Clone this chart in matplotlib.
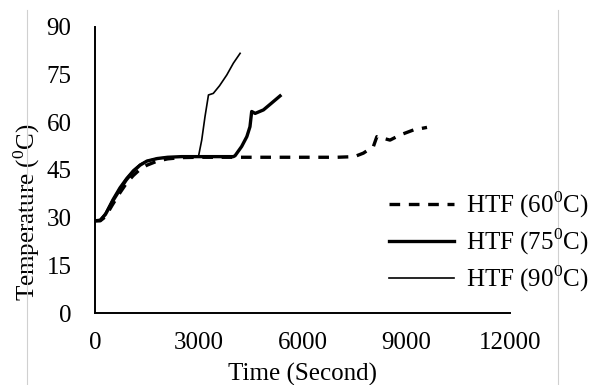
import matplotlib.pyplot as plt
from matplotlib.lines import Line2D

# valores (tempo em s, temperatura em C)
t60 = [0, 150, 300, 500, 700, 900, 1100, 1300, 1500, 1800, 2100, 2500, 3000,
       4000, 5000, 6000, 7000, 7500, 7760, 8050, 8150, 8530, 8820, 9210, 9600]
T60 = [29, 29, 30.3, 34, 37.5, 40.7, 43.2, 45.2, 46.5, 47.8, 48.5, 48.9, 49,
       49, 49, 49, 49, 49.2, 50.3, 52.4, 55.5, 54.4, 56, 57.6, 58.4]

t75 = [0, 150, 300, 500, 700, 900, 1100, 1300, 1500, 1800, 2100, 2500, 3000,
       3500, 4000, 4050, 4240, 4390, 4480, 4530, 4630, 4870, 5100, 5350]
T75 = [29, 29.2, 31, 35, 38.5, 41.8, 44.5, 46.5, 47.8, 48.6, 49, 49.2, 49.2,
       49.2, 49.2, 49.5, 52.4, 55.5, 58.6, 63.4, 62.8, 63.9, 66, 68.3]

t90 = [0, 150, 300, 500, 700, 900, 1100, 1300, 1500, 1800, 2100, 2500, 2990,
       3085, 3180, 3280, 3420, 3600, 3810, 4000, 4195]
T90 = [29, 29.4, 31.5, 35.8, 39.5, 42.5, 45, 46.8, 47.9, 48.7, 49, 49.2, 49.2,
       54.4, 61.8, 68.6, 69.1, 71.5, 74.9, 78.6, 81.7]

labels = ['HTF (60$^0$C)', 'HTF (75$^0$C)', 'HTF (90$^0$C)']
xticks = [0, 3000, 6000, 9000, 12000]
yticks = [0, 15, 30, 45, 60, 75, 90]

plt.rcParams['font.family'] = 'Liberation Serif'
plt.rcParams['mathtext.fontset'] = 'custom'
plt.rcParams['mathtext.rm'] = 'Liberation Serif'

fs = 18

fig = plt.figure(figsize=(5.94, 3.85), dpi=100)
ax = fig.add_axes([0.16, 0.187, 0.6986, 0.743])

ax.plot(t60, T60, color='black', linewidth=2.4, linestyle=(0, (3.2, 2.6)), label=labels[0])
ax.plot(t75, T75, color='black', linewidth=2.4, label=labels[1])
ax.plot(t90, T90, color='black', linewidth=1.2, label=labels[2])

ax.set_xlim(0, 12000)
ax.set_ylim(0, 90)
ax.set_xticks(xticks)
ax.set_yticks(yticks)
ax.tick_params(length=0, labelsize=fs)
ax.tick_params(axis='x', pad=14)
ax.tick_params(axis='y', pad=17)
ax.spines['top'].set_visible(False)
ax.spines['right'].set_visible(False)
ax.spines['left'].set_linewidth(1.4)
ax.spines['bottom'].set_linewidth(1.4)

ax.set_xlabel('Time (Second)', fontsize=fs, labelpad=6)
ax.set_ylabel('Temperature ($^0$C)', fontsize=fs, labelpad=3)
# no original o titulo do eixo y fica um pouco abaixo do centro
ax.yaxis.label.set_y(0.353)

fig.legend(loc='upper left', bbox_to_anchor=(0.655, 0.508), frameon=False,
           fontsize=fs, handlelength=2.6, handletextpad=0.48,
           labelspacing=0.26, borderpad=0, borderaxespad=0)

# bordas cinza do quadro original
fig.add_artist(Line2D([27 / 594, 27 / 594], [0, 1 - 10 / 385], color='#d0d0d0', linewidth=0.8))
fig.add_artist(Line2D([558 / 594, 558 / 594], [0, 1 - 10 / 385], color='#d0d0d0', linewidth=0.8))

fig.savefig('out.png', dpi=100)
